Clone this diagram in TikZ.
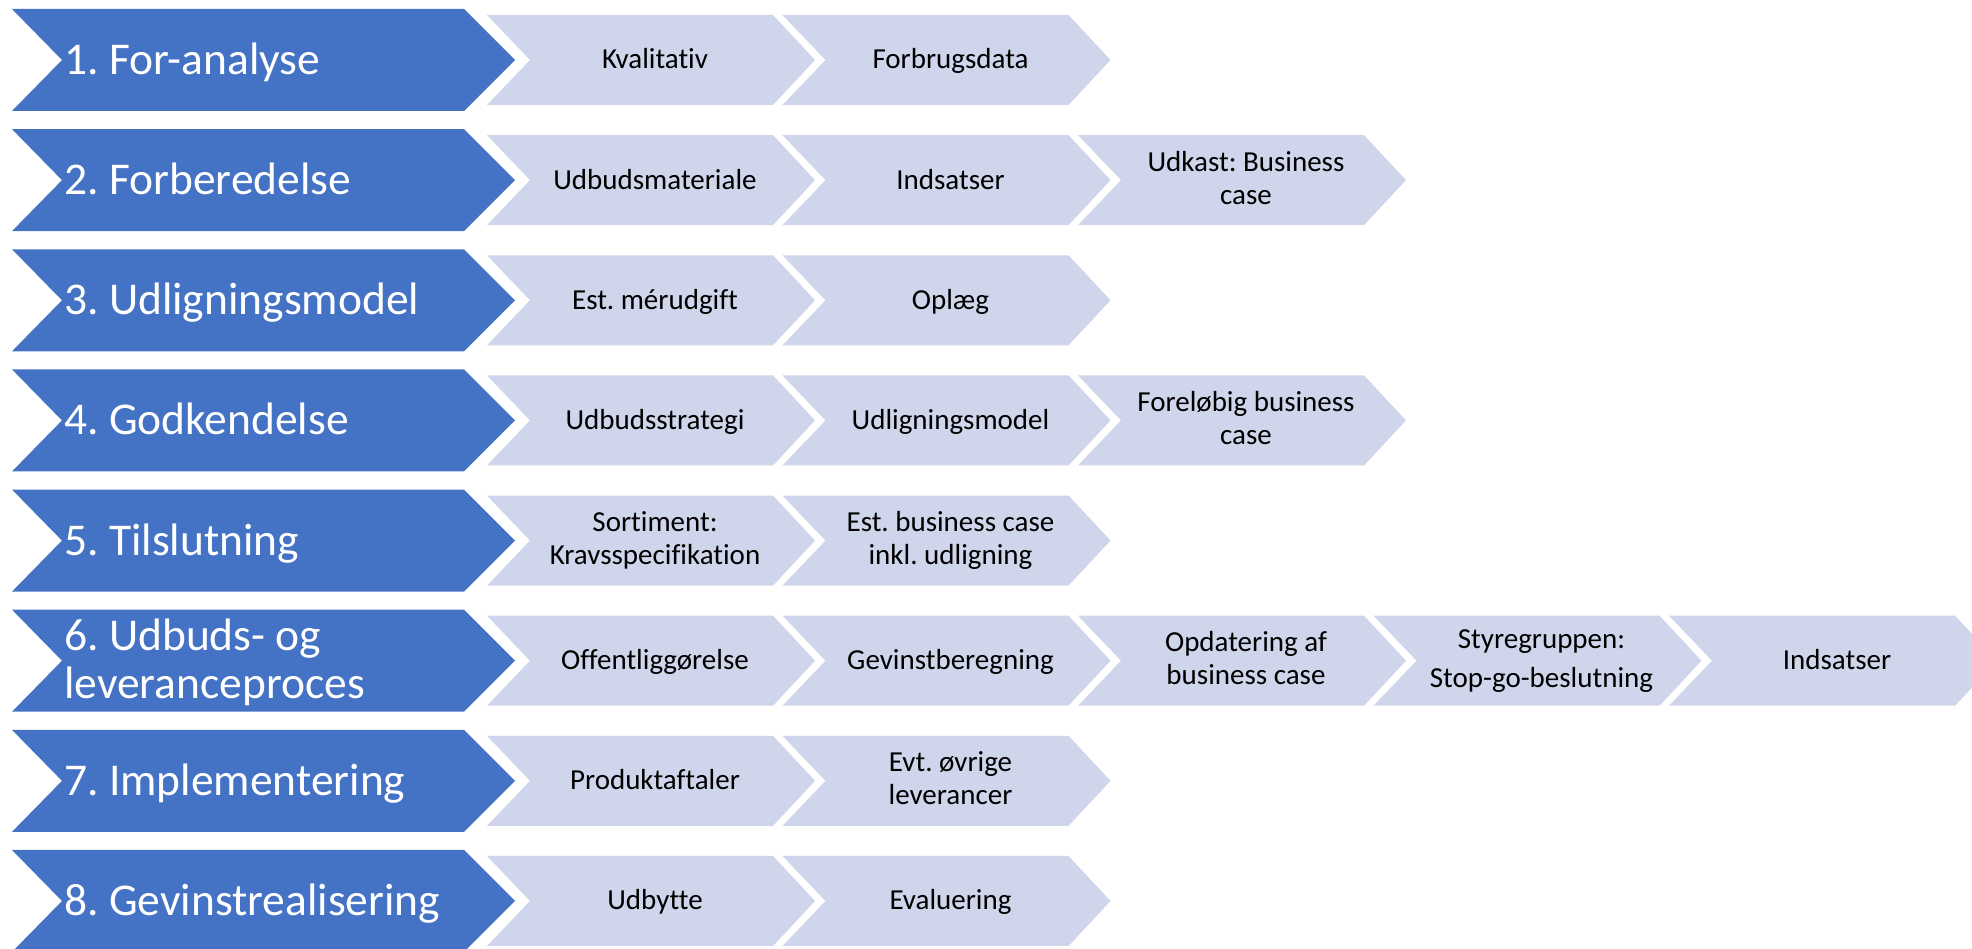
\documentclass[tikz,border=0pt]{standalone}
\usepackage{fontspec}
\setmainfont{Carlito}[Ligatures={NoCommon,NoRare}]
\frenchspacing
\definecolor{stageblue}{HTML}{4472C4}
\definecolor{steplight}{HTML}{CFD5EA}
\tikzset{
  stagefill/.style={fill=stageblue},
  stepfill/.style={fill=steplight},
  stagetext/.style={anchor=base west, inner sep=0pt, text=white, align=left, font=\fontsize{45.5}{48}\selectfont},
  steptext/.style={anchor=base, inner sep=0pt, text=black, align=center, font=\fontsize{29}{33}\selectfont},
}
\newcommand\stagechev[4]{% name, row, baseline offset (last line), text
  \pgfmathsetmacro\cy{60+120.14*#2}
  \fill[stagefill] (12,\cy-51) -- (464,\cy-51) -- (515,\cy) -- (464,\cy+51) -- (12,\cy+51) -- (62,\cy) -- cycle;
  \node[stagetext] (#1) at (64,\cy+#3) {#4};
}
\newcommand\stepchev[5]{% name, row, col, baseline offset (last line), text
  \pgfmathsetmacro\cy{60+120.14*#2}
  \pgfmathsetmacro\lx{487+295.5*#3}
  \fill[stepfill] (\lx,\cy-45) -- (\lx+286,\cy-45) -- (\lx+328,\cy) -- (\lx+286,\cy+45) -- (\lx,\cy+45) -- (\lx+43,\cy) -- cycle;
  \node[steptext] (#1) at (\lx+168,\cy+#4) {#5};
}
\begin{document}
\begin{tikzpicture}[x=1pt,y=-1pt]
\clip (0,0) rectangle (1972,949);
\fill[white] (0,0) rectangle (1972,949);
% row 1
\stagechev{s1}{0}{14.5}{1. For-analyse}
\stepchev{a1}{0}{0}{9}{Kvalitativ}
\stepchev{a2}{0}{1}{9}{Forbrugsdata}
% row 2
\stagechev{s2}{1}{14.5}{2. Forberedelse}
\stepchev{b1}{1}{0}{9}{Udbudsmateriale}
\stepchev{b2}{1}{1}{9}{Indsatser}
\stepchev{b3}{1}{2}{24}{Udkast: Business\\case}
% row 3
\stagechev{s3}{2}{14.5}{3. Udligningsmodel}
\stepchev{c1}{2}{0}{9}{Est. mérudgift}
\stepchev{c2}{2}{1}{9}{Oplæg}
% row 4
\stagechev{s4}{3}{14.5}{4. Godkendelse}
\stepchev{d1}{3}{0}{9}{Udbudsstrategi}
\stepchev{d2}{3}{1}{9}{Udligningsmodel}
\stepchev{d3}{3}{2}{24}{Foreløbig business\\case}
% row 5
\stagechev{s5}{4}{14.5}{5. Tilslutning}
\stepchev{e1}{4}{0}{24}{Sortiment:\\Kravsspecifikation}
\stepchev{e2}{4}{1}{24}{Est. business case\\inkl. udligning}
% row 6
\stagechev{s6}{5}{37.5}{6. Udbuds- og\\leveranceproces}
\stepchev{f1}{5}{0}{9}{Offentliggørelse}
\stepchev{f2}{5}{1}{9}{Gevinstberegning}
\stepchev{f3}{5}{2}{24}{Opdatering af\\business case}
\stepchev{f4}{5}{3}{27}{Styregruppen:\\[6pt]Stop-go-beslutning}
\stepchev{f5}{5}{4}{9}{Indsatser}
% row 7
\stagechev{s7}{6}{14.5}{7. Implementering}
\stepchev{g1}{6}{0}{9}{Produktaftaler}
\stepchev{g2}{6}{1}{24}{Evt. øvrige\\leverancer}
% row 8
\stagechev{s8}{7}{14.5}{8. Gevinstrealisering}
\stepchev{h1}{7}{0}{9}{Udbytte}
\stepchev{h2}{7}{1}{9}{Evaluering}
\end{tikzpicture}
\end{document}
